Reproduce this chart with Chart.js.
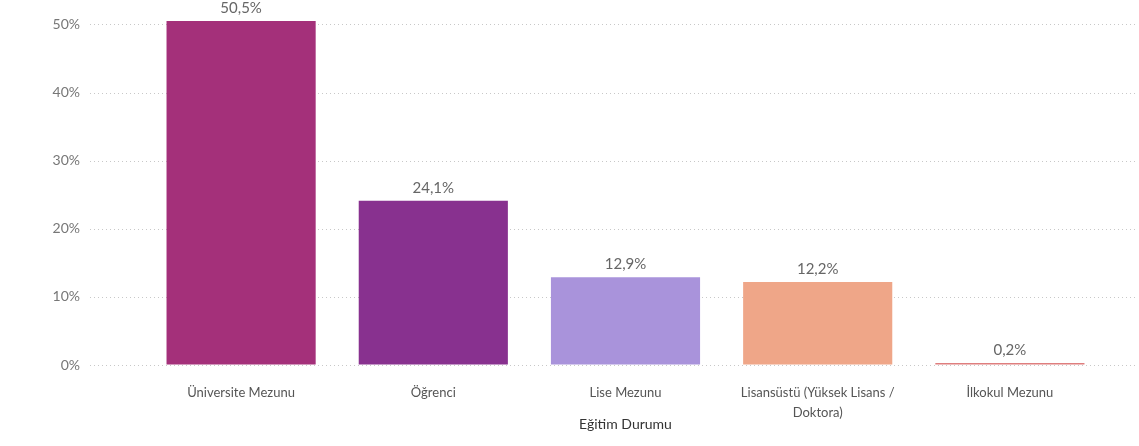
<!DOCTYPE html>
<html>
<head>
<meta charset="utf-8">
<script src="https://cdn.jsdelivr.net/npm/chart.js@4/dist/chart.umd.min.js"></script>
<style>
  html, body { margin: 0; padding: 0; background: #fff; }
  #wrap { width: 1139px; height: 446px; }
</style>
</head>
<body>
<div id="wrap"><canvas id="eduChart"></canvas></div>
<script>
// Eğitim durumu dağılımı (%)
const categories = [
  "Üniversite Mezunu",
  "Öğrenci",
  "Lise Mezunu",
  ["Lisansüstü (Yüksek Lisans /", "Doktora)"],
  "İlkokul Mezunu"
];
const values = [50.5, 24.1, 12.9, 12.2, 0.2];
const barColors = ["#A4307A", "#88318F", "#A993DB", "#EFA688", "#DF7E7E"];
const yTicks = [0, 10, 20, 30, 40, 50];

const fmt = v => v.toFixed(1).replace(".", ",") + "%";

// dotted gridlines that run a bit past the plot area, like the original
const dottedGrid = {
  id: "dottedGrid",
  beforeDatasetsDraw(chart) {
    const { ctx, chartArea, scales } = chart;
    ctx.save();
    ctx.strokeStyle = "#c8c8c8";
    ctx.lineWidth = 1;
    ctx.setLineDash([1, 3]);
    yTicks.forEach(t => {
      const y = Math.round(scales.y.getPixelForValue(t)) + 0.5;
      ctx.beginPath();
      ctx.moveTo(chartArea.left - 55, y);
      ctx.lineTo(chartArea.right + 30, y);
      ctx.stroke();
    });
    ctx.restore();
  }
};

// value labels above each bar
const barLabels = {
  id: "barLabels",
  afterDatasetsDraw(chart) {
    const { ctx } = chart;
    const meta = chart.getDatasetMeta(0);
    ctx.save();
    ctx.font = "15px Lato, 'Open Sans', sans-serif";
    ctx.fillStyle = "#666";
    ctx.textAlign = "center";
    ctx.textBaseline = "bottom";
    meta.data.forEach((bar, i) => {
      ctx.fillText(fmt(values[i]), bar.x, bar.y - 5);
    });
    ctx.restore();
  }
};

new Chart(document.getElementById("eduChart"), {
  type: "bar",
  data: {
    labels: categories,
    datasets: [{
      data: values,
      backgroundColor: barColors,
      minBarLength: 2,
      categoryPercentage: 1,
      barPercentage: 0.776
    }]
  },
  options: {
    responsive: true,
    maintainAspectRatio: false,
    animation: false,
    layout: { padding: { top: 21, right: 33, left: 0, bottom: 0 } },
    plugins: {
      legend: { display: false },
      tooltip: { enabled: false }
    },
    scales: {
      x: {
        grid: { display: false },
        border: { display: false },
        ticks: {
          color: "#555",
          padding: 9,
          maxRotation: 0,
          autoSkip: false,
          font: { family: "'Comic Sans MS', Lato, sans-serif", size: 13, lineHeight: 1.6 }
        },
        title: {
          display: true,
          text: "Eğitim Durumu",
          color: "#333",
          padding: { top: 0, bottom: 13 },
          font: { family: "'Comic Sans MS', Lato, sans-serif", size: 14 }
        },
        afterFit: s => { s.height = 81; }
      },
      y: {
        min: 0,
        max: 50.5,
        grid: {
          display: true,
          drawOnChartArea: false,
          drawTicks: true,
          tickLength: 65,
          tickColor: "rgba(0,0,0,0)"
        },
        border: { display: false },
        afterBuildTicks: s => { s.ticks = yTicks.map(v => ({ value: v })); },
        afterFit: s => { s.width = 145; },
        ticks: {
          color: "#777",
          padding: 0,
          font: { family: "Lato, 'Open Sans', sans-serif", size: 14 },
          callback: v => v + "%"
        }
      }
    }
  },
  plugins: [dottedGrid, barLabels]
});
</script>
</body>
</html>
